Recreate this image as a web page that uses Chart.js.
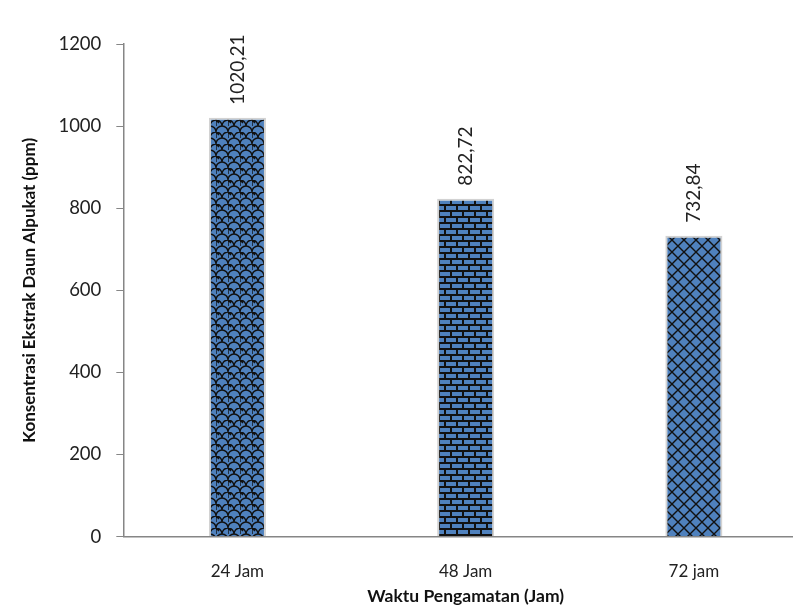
<!DOCTYPE html>
<html>
<head>
<meta charset="utf-8">
<script src="https://cdn.jsdelivr.net/npm/chart.js@4.4.1/dist/chart.umd.min.js"></script>
<style>
  html, body { margin: 0; padding: 0; background: #fff; overflow: hidden; }
  #wrap { width: 808px; height: 607px; }
</style>
</head>
<body>
<div id="wrap"><canvas id="chart"></canvas></div>
<script>
const categories = ["24 Jam", "48 Jam", "72 jam"];
const values = [1020.21, 822.72, 732.84];
const valueLabels = ["1020,21", "822,72", "732,84"];
const yTicks = [0, 200, 400, 600, 800, 1000, 1200];

const FONT = "Lato, 'Open Sans', sans-serif";
const BLUE = "#4f81bd";

// small tiles for the three hatch fills
function makeTile(w, h, draw) {
  const c = document.createElement("canvas");
  c.width = w; c.height = h;
  const g = c.getContext("2d");
  g.fillStyle = BLUE;
  g.fillRect(0, 0, w, h);
  g.strokeStyle = "#111";
  g.lineWidth = 1.4;
  draw(g, w, h);
  return document.getElementById("chart").getContext("2d").createPattern(c, "repeat");
}

const scales = makeTile(12, 12, (g) => {
  g.beginPath();
  g.arc(6, 12, 6, Math.PI, 0);
  g.moveTo(0, 6); g.arc(0, 6, 6, -Math.PI / 2, 0);
  g.moveTo(12, 0); g.arc(12, 6, 6, Math.PI / 2 * 3, Math.PI, true);
  g.moveTo(0, 0); g.lineTo(3, 3);
  g.stroke();
});

const bricks = makeTile(12, 12, (g) => {
  g.lineWidth = 2;
  g.beginPath();
  g.moveTo(0, 1); g.lineTo(12, 1);
  g.moveTo(0, 7); g.lineTo(12, 7);
  g.moveTo(1, 1); g.lineTo(1, 7);
  g.moveTo(7, 7); g.lineTo(7, 13);
  g.stroke();
});

const lattice = makeTile(12, 12, (g) => {
  g.beginPath();
  g.moveTo(0, 0); g.lineTo(12, 12);
  g.moveTo(12, 0); g.lineTo(0, 12);
  g.stroke();
});

const valueLabelPlugin = {
  id: "valueLabels",
  afterDatasetsDraw(chart) {
    const ctx = chart.ctx;
    const meta = chart.getDatasetMeta(0);
    ctx.save();
    ctx.font = "19px " + FONT;
    ctx.fillStyle = "#222";
    ctx.textAlign = "left";
    ctx.textBaseline = "middle";
    meta.data.forEach((bar, i) => {
      ctx.save();
      ctx.translate(bar.x, bar.y - 13);
      ctx.rotate(-Math.PI / 2);
      ctx.fillText(valueLabels[i], 0, 0);
      ctx.restore();
    });
    ctx.restore();
  }
};

new Chart(document.getElementById("chart"), {
  type: "bar",
  data: {
    labels: categories,
    datasets: [{
      data: values,
      backgroundColor: [scales, bricks, lattice],
      borderColor: "rgba(205,205,205,0.9)",
      borderWidth: 2,
      barPercentage: 0.25,
      categoryPercentage: 1
    }]
  },
  options: {
    responsive: true,
    maintainAspectRatio: false,
    animation: false,
    layout: { padding: { top: 44, right: 0, bottom: 0, left: 19 } },
    plugins: { legend: { display: false }, tooltip: { enabled: false } },
    scales: {
      x: {
        grid: { display: true, drawOnChartArea: false, drawTicks: false },
        border: { color: "#868686", width: 1.5 },
        ticks: { color: "#222", font: { family: FONT, size: 17 }, padding: 25 },
        title: {
          display: true, text: "Waktu Pengamatan (Jam)", color: "#111",
          font: { family: FONT, size: 17.5, weight: "bold" }, padding: { top: -21, bottom: 0 }
        }
      },
      y: {
        min: 0, max: 1200,
        afterBuildTicks(axis) { axis.ticks = yTicks.map(v => ({ value: v })); },
        grid: { drawOnChartArea: false, drawTicks: true, tickLength: 7, color: "#868686" },
        border: { color: "#868686", width: 1.5 },
        ticks: { color: "#222", font: { family: FONT, size: 18.5 }, padding: 15,
                 callback: (v) => String(v) },
        title: {
          display: true, text: "Konsentrasi Ekstrak Daun Alpukat (ppm)", color: "#111",
          font: { family: FONT, size: 17, weight: "bold" }, padding: { top: 0, bottom: 4 }
        }
      }
    }
  },
  plugins: [valueLabelPlugin]
});
</script>
</body>
</html>
